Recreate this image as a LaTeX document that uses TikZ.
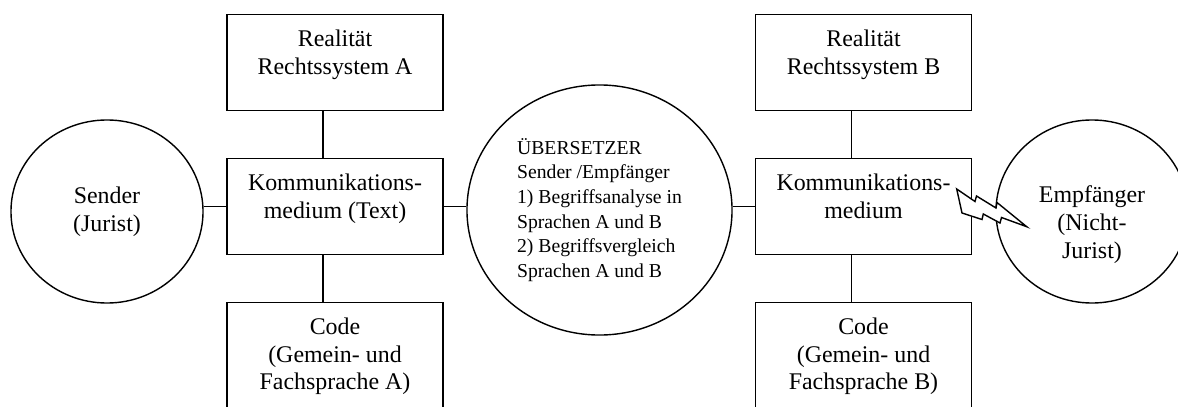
\documentclass[tikz,border=0pt]{standalone}
\usepackage{fontspec}
\setmainfont{Liberation Serif}
\usetikzlibrary{shapes.geometric}

\newcommand{\zeilen}[1]{\begin{tabular}[t]{@{}c@{}}#1\end{tabular}}

\begin{document}
\begin{tikzpicture}[
x=0.025cm, y=-0.025cm,
line width=1pt,
kasten/.style={draw, anchor=north, inner sep=0pt, minimum width=5.4cm,
  text height=0.8cm, text depth=1.6cm, font=\fontsize{17}{19.5}\selectfont},
kreis/.style={draw, ellipse, inner sep=0pt, align=center,
  minimum width=4.8cm, minimum height=4.575cm,
  font=\fontsize{17}{20}\selectfont},
]
\useasboundingbox (0,0) rectangle (1178,407);
\clip (0,0) rectangle (1178,407);

% Seite A
\node[kasten] (realA) at (335,14) {\zeilen{Realität\\Rechtssystem A}};
\node[kasten] (komA) at (335,158) {\zeilen{Kommunikations-\\medium (Text)}};
\node[kasten, text depth=2.4cm] (codeA) at (335,302) {\zeilen{Code\\(Gemein- und\\Fachsprache A)}};
\node[kreis] (sender) at (107,211.5) {Sender\\(Jurist)};

% Uebersetzer
\node[kreis, align=left, minimum width=6.625cm, minimum height=6.25cm,
  font=\fontsize{14}{17.5}\selectfont] (uebers) at (599.5,210)
  {ÜBERSETZER\\Sender /Empfänger\\1) Begriffsanalyse in\\Sprachen A und B\\2) Begriffsvergleich\\Sprachen A und B};

% Seite B
\node[kasten] (realB) at (863.5,14) {\zeilen{Realität\\Rechtssystem B}};
\node[kasten] (komB) at (863.5,158) {\zeilen{Kommunikations-\\medium}};
\node[kasten, text depth=2.4cm] (codeB) at (863.5,302) {\zeilen{Code\\(Gemein- und\\Fachsprache B)}};
\node[kreis] (empf) at (1092,211.5) {};
\node[align=center, font=\fontsize{17}{20}\selectfont] (empftext) at (1092,225) {Empfänger\\(Nicht-\\Jurist)};

% Verbindungen
\draw (sender.east |- komA.west) -- (komA.west);
\draw (komA.east) -- (komA.east -| uebers.west);
\draw (komB.west -| uebers.east) -- (komB.west);
\draw ([xshift=-0.3cm]realA.south) -- ([xshift=-0.3cm]komA.north);
\draw ([xshift=-0.3cm]komA.south) -- ([xshift=-0.3cm]codeA.north);
\draw ([xshift=-0.3cm]realB.south) -- ([xshift=-0.3cm]komB.north);
\draw ([xshift=-0.3cm]komB.south) -- ([xshift=-0.3cm]codeB.north);

% Blitz
\draw[fill=white] (956.7,189) -- (975,201.5) -- (976.5,196) -- (996,208) -- (997,202.5)
  -- (1026.7,226.7) -- (1001.5,217.5) -- (1000,223) -- (983.3,214) -- (982,219.5)
  -- (962,213) -- cycle;
\end{tikzpicture}
\end{document}
